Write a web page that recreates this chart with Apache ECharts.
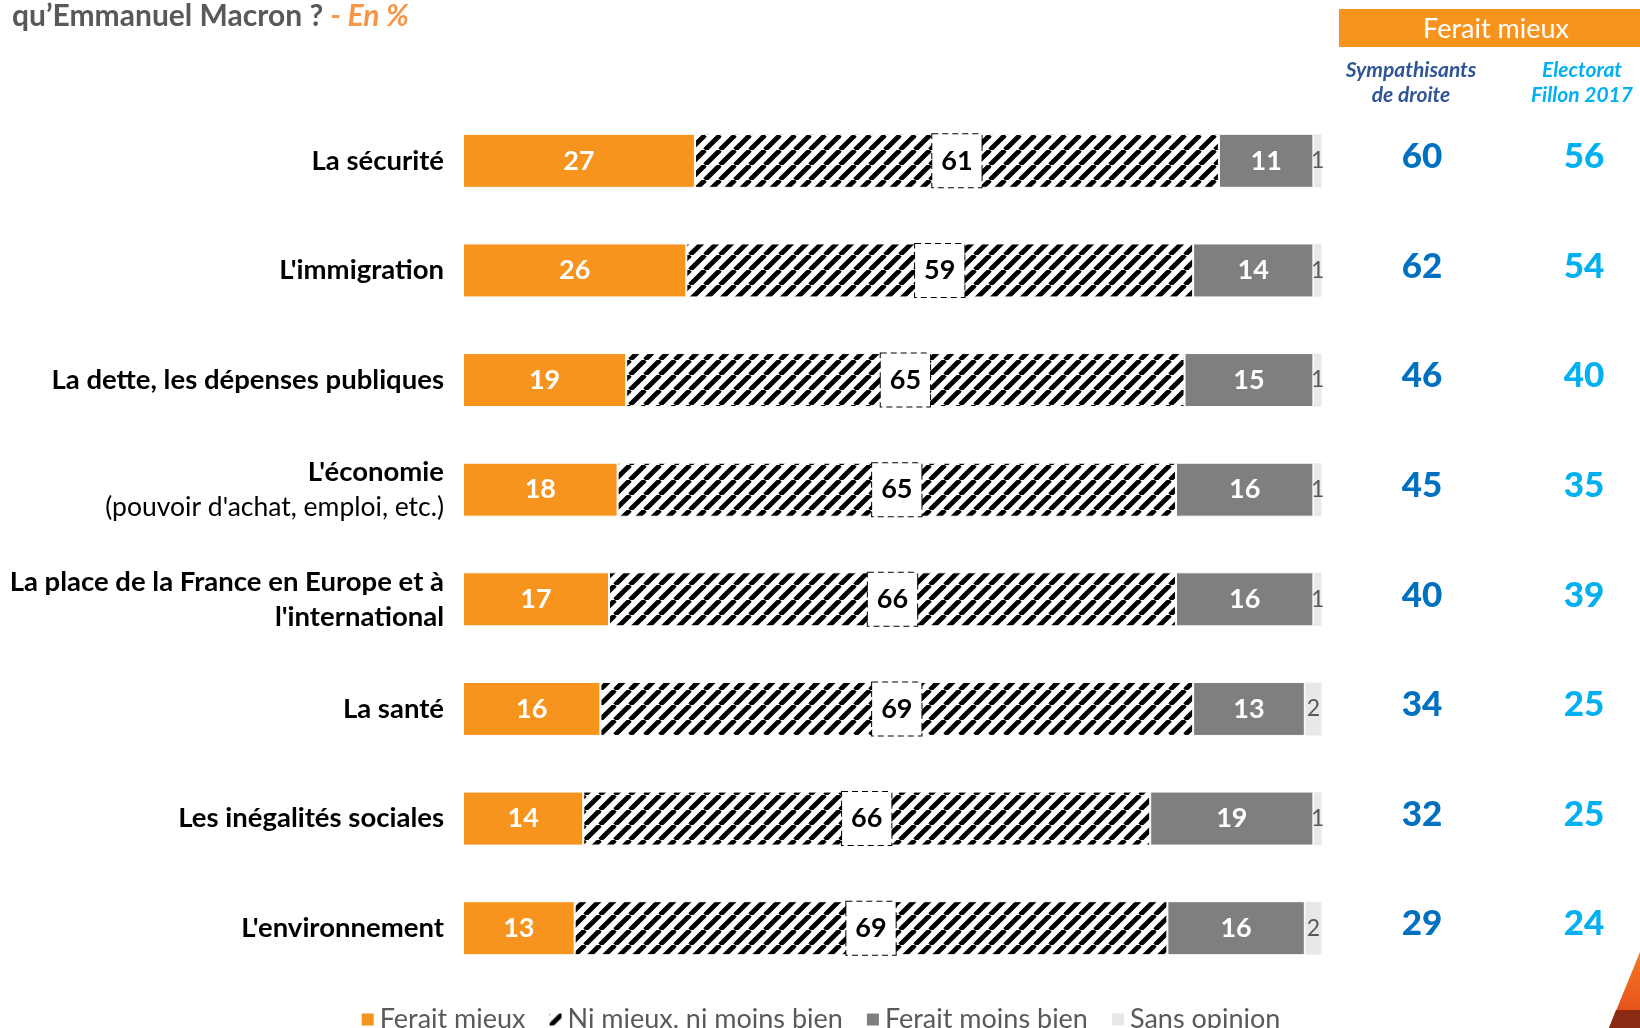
<!DOCTYPE html>
<html>
<head>
<meta charset="utf-8">
<script src="https://cdn.jsdelivr.net/npm/echarts@6/dist/echarts.min.js"></script>
<style>
  html, body { margin: 0; padding: 0; background: #fff; }
  #chart { width: 1640px; height: 1028px; }
</style>
</head>
<body>
<div id="chart"></div>
<script>
const categories = [
  "La sécurité",
  "L'immigration",
  "La dette, les dépenses publiques",
  "L'économie\n(pouvoir d'achat, emploi, etc.)",
  "La place de la France en Europe et à\nl'international",
  "La santé",
  "Les inégalités sociales",
  "L'environnement"
];
const mieux = [27, 26, 19, 18, 17, 16, 14, 13];
const niNi = [61, 59, 65, 65, 66, 69, 66, 69];
const moinsBien = [11, 14, 15, 16, 16, 13, 19, 16];
const sansOpinion = [1, 1, 1, 1, 1, 2, 1, 2];
const sympathisants = [60, 62, 46, 45, 40, 34, 32, 29];
const fillon = [56, 54, 40, 35, 39, 25, 25, 24];

const FONT = "Lato";

// hatch tile for "Ni mieux, ni moins bien"
const T = 15;
const tile = document.createElement("canvas");
tile.width = T;
tile.height = T;
const ctx = tile.getContext("2d");
ctx.fillStyle = "#fff";
ctx.fillRect(0, 0, T, T);
ctx.strokeStyle = "#000";
ctx.lineWidth = 4.8;
for (const o of [-T, 0, T]) {
  ctx.beginPath();
  ctx.moveTo(o, T);
  ctx.lineTo(o + T, 0);
  ctx.stroke();
}
const hatch = { image: tile, repeat: "repeat" };

const chart = echarts.init(document.getElementById("chart"));

const barBase = {
  type: "bar",
  stack: "total",
  barWidth: 54,
  xAxisIndex: 0,
  yAxisIndex: 0
};

const colLabel = (color) => ({
  show: true,
  position: "inside",
  formatter: (p) => p.value[2],
  color: color,
  fontFamily: FONT,
  fontSize: 35,
  fontWeight: 900,
  textBorderWidth: 0,
  offset: [0, -4]
});

chart.setOption({
  animation: false,
  textStyle: { fontFamily: FONT },
  title: [
    {
      left: 12,
      top: 1,
      padding: 0,
      text: "{a|qu’Emmanuel Macron ? }{b|- En %}",
      textStyle: {
        rich: {
          a: { fontFamily: FONT, fontSize: 30, fontWeight: "bold", color: "#595959" },
          b: { fontFamily: FONT, fontSize: 30, fontWeight: "bold", fontStyle: "italic", color: "#F79646" }
        }
      }
    },
    {
      left: 1411,
      top: 58,
      textAlign: "center",
      padding: 0,
      text: "Sympathisants\nde droite",
      textStyle: { fontFamily: FONT, fontSize: 21, fontWeight: "bold", fontStyle: "italic", color: "#2F5597", lineHeight: 25, align: "center" }
    },
    {
      left: 1582,
      top: 58,
      textAlign: "center",
      padding: 0,
      text: "Electorat\nFillon 2017",
      textStyle: { fontFamily: FONT, fontSize: 21, fontWeight: "bold", fontStyle: "italic", color: "#00B0F0", lineHeight: 25, align: "center" }
    }
  ],
  graphic: [
    {
      type: "rect",
      shape: { x: 1339, y: 9, width: 301, height: 38 },
      style: { fill: "#F7941E" }
    },
    {
      type: "text",
      x: 1496,
      y: 29,
      style: {
        text: "Ferait mieux",
        fill: "#fff",
        font: "27px " + FONT,
        textAlign: "center",
        textVerticalAlign: "middle"
      }
    },
    {
      type: "polygon",
      shape: { points: [[1640, 952], [1609, 1028], [1640, 1028]] },
      style: {
        fill: new echarts.graphic.LinearGradient(0, 0, 0, 1, [
          { offset: 0, color: "#F47B20" },
          { offset: 1, color: "#E2461C" }
        ])
      }
    },
    {
      type: "polygon",
      shape: { points: [[1616, 1010], [1609, 1028], [1640, 1028], [1640, 1010]] },
      style: { fill: "#8A2A12" }
    }
  ],
  legend: {
    top: 1001,
    left: "center",
    icon: "rect",
    itemWidth: 14,
    itemHeight: 14,
    itemGap: 22,
    textStyle: { fontFamily: FONT, fontSize: 27, color: "#595959" },
    data: ["Ferait mieux", "Ni mieux, ni moins bien", "Ferait moins bien", "Sans opinion"]
  },
  grid: [
    { left: 463, right: 318, top: 106, height: 877 },
    { left: 1422, width: 162, top: 106, height: 877 }
  ],
  xAxis: [
    { type: "value", gridIndex: 0, min: 0, max: 100, show: false },
    { type: "value", gridIndex: 1, min: 0, max: 1, show: false }
  ],
  yAxis: [
    {
      type: "category",
      gridIndex: 0,
      inverse: true,
      data: categories,
      axisLine: { show: false },
      axisTick: { show: false },
      axisLabel: {
        margin: 19,
        lineHeight: 35,
        formatter: (v) =>
          v.split("\n").map((l) => (l.startsWith("(") ? "{n|" + l + "}" : "{b|" + l + "}")).join("\n"),
        rich: {
          b: { fontFamily: FONT, fontSize: 27.5, fontWeight: "bold", color: "#000", lineHeight: 35, align: "right" },
          n: { fontFamily: FONT, fontSize: 26.5, color: "#000", lineHeight: 35, align: "right" }
        }
      }
    },
    {
      type: "category",
      gridIndex: 1,
      inverse: true,
      data: categories,
      show: false
    }
  ],
  series: [
    {
      ...barBase,
      name: "Ferait mieux",
      data: mieux,
      itemStyle: { color: "#F7941E", borderColor: "#fff", borderWidth: 1 },
      label: { show: true, position: "inside", color: "#fff", fontFamily: FONT, fontSize: 27, fontWeight: "bold" }
    },
    {
      ...barBase,
      name: "Ni mieux, ni moins bien",
      data: niNi,
      itemStyle: { color: hatch, borderColor: "#fff", borderWidth: 1 },
      label: {
        show: true,
        position: "inside",
        color: "#000",
        fontFamily: FONT,
        fontSize: 27,
        fontWeight: "bold",
        lineHeight: 27,
        backgroundColor: "#fff",
        borderColor: "#000",
        borderWidth: 1,
        borderType: [6, 4],
        padding: [13, 9]
      }
    },
    {
      ...barBase,
      name: "Ferait moins bien",
      data: moinsBien,
      itemStyle: { color: "#7F7F7F", borderColor: "#fff", borderWidth: 1 },
      label: { show: true, position: "inside", color: "#fff", fontFamily: FONT, fontSize: 27, fontWeight: "bold" }
    },
    {
      ...barBase,
      name: "Sans opinion",
      data: sansOpinion,
      itemStyle: { color: "#E8E8E8", borderColor: "#fff", borderWidth: 0.5 },
      label: { show: true, position: "inside", color: "#595959", fontFamily: FONT, fontSize: 23 }
    },
    {
      type: "scatter",
      xAxisIndex: 1,
      yAxisIndex: 1,
      symbolSize: 1,
      itemStyle: { color: "rgba(0,0,0,0)", opacity: 1 },
      data: sympathisants.map((v, i) => [0, i, v]),
      label: colLabel("#0070C0")
    },
    {
      type: "scatter",
      xAxisIndex: 1,
      yAxisIndex: 1,
      symbolSize: 1,
      itemStyle: { color: "rgba(0,0,0,0)", opacity: 1 },
      data: fillon.map((v, i) => [1, i, v]),
      label: colLabel("#00B0F0")
    }
  ]
});
</script>
</body>
</html>
